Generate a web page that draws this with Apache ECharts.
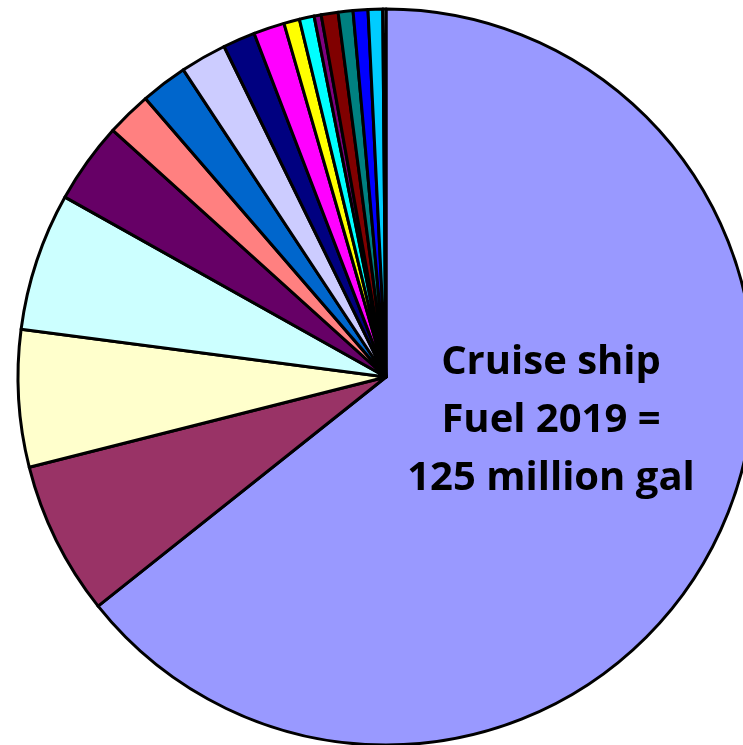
<!DOCTYPE html>
<html>
<head>
<meta charset="utf-8">
<style>
  html, body { margin: 0; padding: 0; background: #ffffff; }
  #chart { width: 743px; height: 745px; }
</style>
<script src="https://cdn.jsdelivr.net/npm/echarts@6/dist/echarts.min.js"></script>
</head>
<body>
<div id="chart"></div>
<script>
// Slice categories (names not shown in the reference)
const categories = [
  'Slice 1','Slice 2','Slice 3','Slice 4','Slice 5','Slice 6','Slice 7','Slice 8','Slice 9',
  'Slice 10','Slice 11','Slice 12','Slice 13','Slice 14','Slice 15','Slice 16','Slice 17','Slice 18'
];
// Share of fuel (%)
const shares = [
  64.3, 6.76, 6.01, 6.06, 3.56, 1.97, 2.06, 2.03, 1.42,
  1.36, 0.69, 0.65, 0.31, 0.74, 0.65, 0.65, 0.64, 0.14
];
const sliceColors = [
  '#9999FF','#993366','#FFFFCC','#CCFFFF','#660066','#FF8080','#0066CC','#CCCCFF','#000080',
  '#FF00FF','#FFFF00','#00FFFF','#800080','#800000','#008080','#0000FF','#00CCFF','#CCFFFF'
];
const centerLines = ['Cruise ship', 'Fuel 2019 =', '125 million gal'];

const chart = echarts.init(document.getElementById('chart'));
const data = categories.map((c, i) => ({
  name: c,
  value: shares[i],
  itemStyle: { color: sliceColors[i] }
}));

chart.setOption({
  animation: false,
  backgroundColor: '#ffffff',
  series: [{
    type: 'pie',
    center: [386, 377],
    radius: [0, 368],
    startAngle: 90,
    clockwise: true,
    minAngle: 0,
    avoidLabelOverlap: false,
    label: { show: false },
    labelLine: { show: false },
    emphasis: { disabled: true },
    itemStyle: { borderColor: '#000000', borderWidth: 3 },
    data: data
  }],
  graphic: {
    elements: centerLines.map((t, i) => ({
      type: 'text',
      x: 551,
      y: 363 + i * 58,
      z: 100,
      silent: true,
      style: {
        text: t,
        fill: '#000000',
        font: 'bold 40px "Open Sans", Lato, sans-serif',
        align: 'center',
        verticalAlign: 'middle'
      }
    }))
  }
});
</script>
</body>
</html>
